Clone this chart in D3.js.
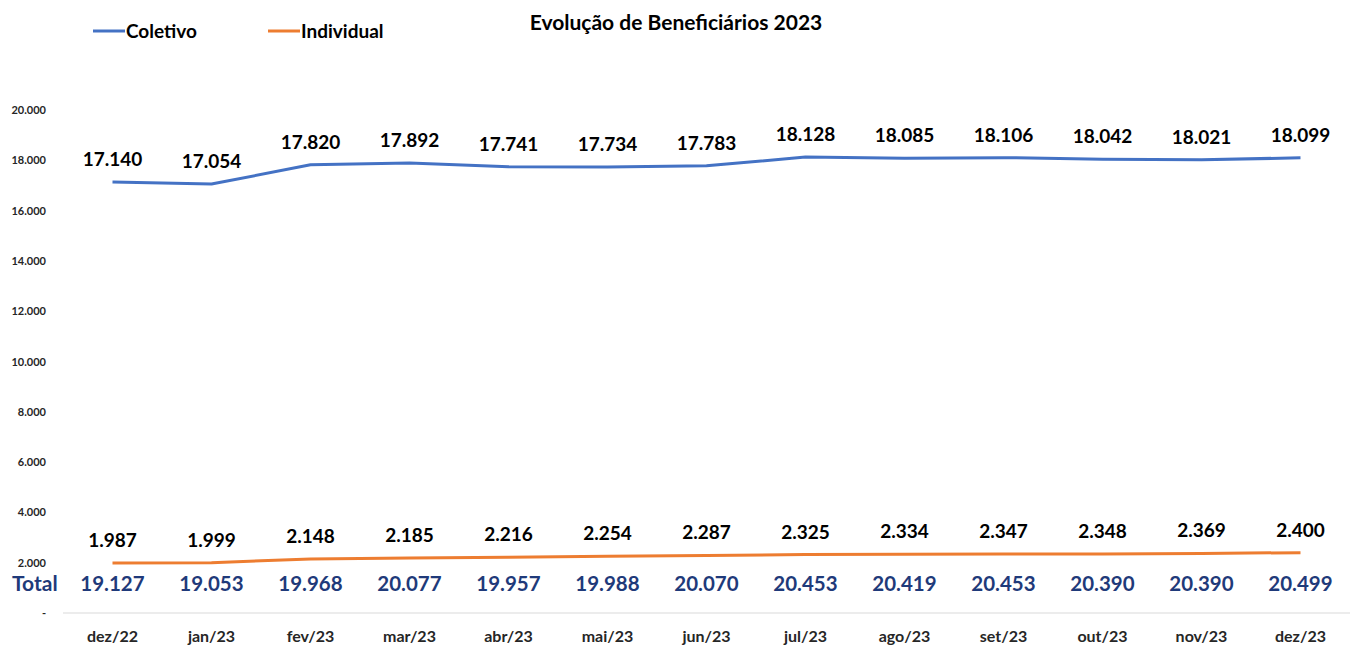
<!DOCTYPE html>
<html>
<head>
<meta charset="utf-8">
<script src="https://cdn.jsdelivr.net/npm/d3@7"></script>
<style>
  body { margin: 0; background: #fff; }
  text { font-family: Lato, "Open Sans", sans-serif; font-weight: bold; }
</style>
</head>
<body>
<svg width="1356" height="646"></svg>
<script>
// dados
const months = ["dez/22","jan/23","fev/23","mar/23","abr/23","mai/23","jun/23","jul/23","ago/23","set/23","out/23","nov/23","dez/23"];
const coletivo = [17140,17054,17820,17892,17741,17734,17783,18128,18085,18106,18042,18021,18099];
const individual = [1987,1999,2148,2185,2216,2254,2287,2325,2334,2347,2348,2369,2400];
const totals = [19127,19053,19968,20077,19957,19988,20070,20453,20419,20453,20390,20390,20499];
const yTicks = [0,2000,4000,6000,8000,10000,12000,14000,16000,18000,20000];

const fmt = v => v === 0 ? "-" : d3.format(",")(v).replace(/,/g, ".");

const svg = d3.select("svg");

const x = d3.scaleBand().domain(months).range([63, 1350]);
const y = d3.scaleLinear().domain([0, 20000]).range([613, 110]);
const cx = d => x(d) + x.bandwidth() / 2;

// eixo y
svg.append("g")
  .selectAll("text")
  .data(yTicks)
  .enter().append("text")
    .attr("x", 46)
    .attr("y", d => y(d) + 4)
    .attr("text-anchor", "end")
    .style("font-size", "11px")
    .style("fill", "#262626")
    .text(fmt);

// eixo x
svg.append("line")
  .attr("x1", 63).attr("x2", 1350)
  .attr("y1", y(0)).attr("y2", y(0))
  .attr("stroke", "#d9d9d9").attr("stroke-width", 1);

svg.append("g")
  .selectAll("text")
  .data(months)
  .enter().append("text")
    .attr("x", cx)
    .attr("y", 642)
    .attr("text-anchor", "middle")
    .style("font-size", "16px")
    .style("fill", "#262626")
    .text(d => d);

const line = d3.line().x((d, i) => cx(months[i])).y(d => y(d));

const series = [
  {name: "Coletivo", values: coletivo, color: "#4472C4"},
  {name: "Individual", values: individual, color: "#ED7D31"}
];

series.forEach(s => {
  svg.append("path")
    .datum(s.values)
    .attr("d", line)
    .attr("fill", "none")
    .attr("stroke", s.color)
    .attr("stroke-width", 3)
    .attr("stroke-linejoin", "round");

  svg.append("g")
    .selectAll("text")
    .data(s.values)
    .enter().append("text")
      .attr("x", (d, i) => cx(months[i]))
      .attr("y", d => y(d) - 16)
      .attr("text-anchor", "middle")
      .style("font-size", "19px")
      .style("fill", "#000")
      .text(fmt);
});

// linha de totais
svg.append("text")
  .attr("x", 12).attr("y", 591)
  .style("font-size", "21px")
  .style("fill", "#1F3A7A")
  .text("Total");

svg.append("g")
  .selectAll("text")
  .data(totals)
  .enter().append("text")
    .attr("x", (d, i) => cx(months[i]))
    .attr("y", 591)
    .attr("text-anchor", "middle")
    .style("font-size", "20.5px")
    .style("fill", "#1F3A7A")
    .text(fmt);

// título
svg.append("text")
  .attr("x", 676).attr("y", 30)
  .attr("text-anchor", "middle")
  .style("font-size", "21px")
  .style("fill", "#000")
  .text("Evolução de Beneficiários 2023");

// legenda
const leg = svg.append("g")
  .selectAll("g")
  .data(series)
  .enter().append("g")
    .attr("transform", (d, i) => `translate(${93 + i * 175},31)`);

leg.append("line")
  .attr("x1", 0).attr("x2", 32)
  .attr("stroke", d => d.color)
  .attr("stroke-width", 3);

leg.append("text")
  .attr("x", 33).attr("y", 7)
  .style("font-size", "19px")
  .style("fill", "#000")
  .text(d => d.name);
</script>
</body>
</html>
